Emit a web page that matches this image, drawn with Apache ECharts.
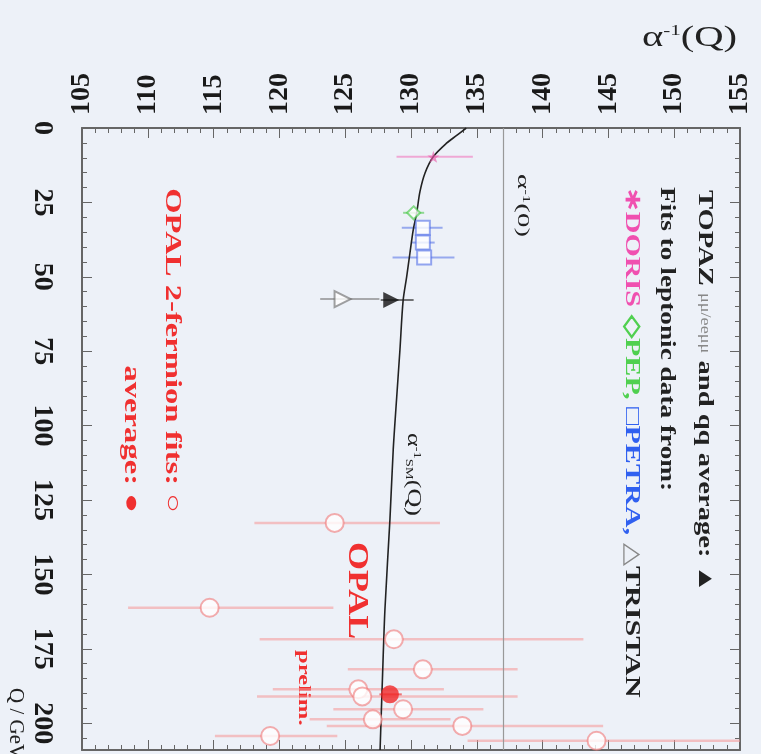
<!DOCTYPE html>
<html><head><meta charset="utf-8">
<script src="https://cdn.jsdelivr.net/npm/echarts@6/dist/echarts.min.js"></script>
<style>html,body{margin:0;padding:0;background:#edf1f8}#c{width:761px;height:754px}</style>
</head><body><div id="c"></div>
<script>
// Standard-model running curve alpha^-1(Q)
const curveQ     = [0,     2.4,   5.1,   9.6,   15.2,  21.4,  28.6,  34.2,  42,    50,    58,    74.5,  91.3,  108,   131.5, 161.7, 185,   209];
const curveAlpha = [134.2, 133.5, 132.7, 131.7, 131.06,130.68,130.43,130.17,129.92,129.67,129.4, 129.16,128.9, 128.65,128.4, 128.02,127.83,127.65];
const alpha0 = 137.036;

// DORIS
const dorisQ = [9.7], dorisA = [131.7], dorisLo = [128.9], dorisHi = [134.7];
// PEP
const pepQ = [28.5], pepA = [130.2], pepLo = [129.4], pepHi = [131.0];
// PETRA
const petraQ = [33.5, 38.5, 43.5], petraA = [130.9, 130.9, 131.0], petraLo = [129.3, 130.0, 128.6], petraHi = [132.4, 131.8, 133.3];
// TRISTAN
const triQ = [57.5], triA = [124.8], triLo = [123.1], triHi = [127.6];
// TOPAZ average
const topazQ = [57.8], topazA = [128.5], topazLo = [127.7], topazHi = [130.2];
// OPAL 2-fermion fits
const opalQ  = [132.7, 161.2, 171.8, 181.9, 188.6, 191.0, 195.3, 198.7, 200.9, 204.3, 205.9];
const opalA  = [124.2, 114.7, 128.7, 130.9, 126.0, 126.3, 129.4, 127.1, 133.9, 119.3, 144.1];
const opalLo = [118.1, 108.5, 118.5, 125.2, 119.5, 118.3, 124.1, 122.3, 123.6, 115.1, 134.3];
const opalHi = [132.2, 124.1, 143.1, 138.1, 132.5, 138.1, 135.5, 133.0, 144.6, 124.4, 155.0];
// OPAL average
const avgQ = [190.3], avgA = [128.4], avgLo = [127.6], avgHi = [129.3];

const serif = "'Liberation Serif','Times New Roman',serif";
const chart = echarts.init(document.getElementById('c'), null, {renderer:'canvas'});

function pts(Q, A){ return Q.map((q,i)=>[A[i], q]); }
function errBars(Q, lo, hi, color, width){
  return {
    type:'custom', xAxisIndex:0, yAxisIndex:0, silent:true, z:2,
    data: Q.map((q,i)=>[q, lo[i], hi[i]]),
    encode:{x:[1,2], y:0},
    renderItem:(params, api)=>{
      const q = api.value(0), l = api.value(1), h = api.value(2);
      const p1 = api.coord([l, q]), p2 = api.coord([h, q]);
      return {type:'line', shape:{x1:p1[0], y1:p1[1], x2:p2[0], y2:p2[1]}, style:{stroke:color, lineWidth:width}};
    }
  };
}
const axisCol = '#666';
const starPath = 'path://M0,-10 L2.4,-3.2 L9.5,-3.1 L3.8,1.2 L5.9,8.1 L0,4 L-5.9,8.1 L-3.8,1.2 L-9.5,-3.1 L-2.4,-3.2 Z';
const R = -Math.PI/2;

const option = {
  backgroundColor:'#edf1f8',
  animation:false,
  grid:{left:82, top:128, width:658, height:622},
  xAxis:[
    {type:'value', position:'top', min:105, max:155, interval:5,
     axisLine:{show:true, onZero:false, lineStyle:{color:axisCol, width:2}},
     axisTick:{show:true, inside:true, length:10, lineStyle:{color:axisCol}},
     minorTick:{show:true, splitNumber:5, length:5, lineStyle:{color:axisCol}},
     splitLine:{show:false},
     axisLabel:{rotate:-90, margin:13, fontFamily:serif, fontWeight:'bold', fontSize:28, color:'#1a1a1a'}},
    {type:'value', position:'bottom', min:105, max:155, interval:5,
     axisLine:{show:true, onZero:false, lineStyle:{color:axisCol, width:2}},
     axisTick:{show:true, inside:true, length:10, lineStyle:{color:axisCol}},
     minorTick:{show:true, splitNumber:5, length:5, lineStyle:{color:axisCol}},
     splitLine:{show:false}, axisLabel:{show:false}}
  ],
  yAxis:[
    {type:'value', position:'left', inverse:true, min:0, max:209, interval:25,
     axisLine:{show:true, onZero:false, lineStyle:{color:axisCol, width:2}},
     axisTick:{show:true, inside:true, length:10, lineStyle:{color:axisCol}},
     minorTick:{show:true, splitNumber:5, length:5, lineStyle:{color:axisCol}},
     splitLine:{show:false},
     axisLabel:{rotate:-90, margin:26, showMaxLabel:false, fontFamily:serif, fontWeight:'bold', fontSize:28, color:'#1a1a1a'}},
    {type:'value', position:'right', inverse:true, min:0, max:209, interval:25,
     axisLine:{show:true, onZero:false, lineStyle:{color:axisCol, width:2}},
     axisTick:{show:true, inside:true, length:10, lineStyle:{color:axisCol}},
     minorTick:{show:true, splitNumber:5, length:5, lineStyle:{color:axisCol}},
     splitLine:{show:false}, axisLabel:{show:false}}
  ],
  series:[
    {type:'line', data:pts(curveQ, curveAlpha), smooth:0.3, showSymbol:false, z:5,
     lineStyle:{color:'#222', width:1.6},
     markLine:{silent:true, symbol:'none', label:{show:false},
       lineStyle:{color:'#999', width:1.2, type:'solid'}, data:[{xAxis:alpha0}]}},
    errBars(dorisQ, dorisLo, dorisHi, 'rgba(240,120,190,0.6)', 2),
    errBars(pepQ, pepLo, pepHi, 'rgba(80,200,80,0.6)', 2),
    errBars(petraQ, petraLo, petraHi, 'rgba(80,110,230,0.55)', 2),
    errBars(triQ, triLo, triHi, 'rgba(120,120,120,0.6)', 2),
    errBars(topazQ, topazLo, topazHi, 'rgba(60,60,60,0.7)', 2),
    errBars(opalQ, opalLo, opalHi, 'rgba(245,150,150,0.55)', 2.5),
    errBars(avgQ, avgLo, avgHi, 'rgba(240,60,60,0.7)', 2),
    {type:'scatter', data:pts(dorisQ, dorisA), symbol:starPath, symbolSize:12, z:6,
     itemStyle:{color:'rgba(235,90,170,0.8)'}},
    {type:'scatter', data:pts(pepQ, pepA), symbol:'emptyDiamond', symbolSize:13, z:6,
     itemStyle:{color:'rgba(70,200,70,0.8)', borderWidth:2}},
    {type:'scatter', data:pts(petraQ, petraA), symbol:'emptyRect', symbolSize:14, z:6,
     itemStyle:{color:'rgba(70,100,230,0.7)', borderWidth:1.5}},
    {type:'scatter', data:pts(triQ, triA), symbol:'emptyTriangle', symbolRotate:-90, symbolSize:16, z:6,
     itemStyle:{color:'rgba(110,110,110,0.8)', borderWidth:1.5}},
    {type:'scatter', data:pts(topazQ, topazA), symbol:'triangle', symbolRotate:-90, symbolSize:16, z:7,
     itemStyle:{color:'#111'}},
    {type:'scatter', data:pts(opalQ, opalA), symbol:'emptyCircle', symbolSize:18, z:6,
     itemStyle:{color:'rgba(240,120,120,0.75)', borderWidth:2}},
    {type:'scatter', data:pts(avgQ, avgA), symbol:'circle', symbolSize:18, z:8,
     itemStyle:{color:'#f02828'}}
  ],
  graphic:[
    {type:'text', x:642, y:24, scaleX:1.4, style:{text:'{a|α}{s|-1}{a|(Q)}',
      rich:{a:{fontFamily:serif, fontSize:29, fill:'#222'}, s:{fontFamily:serif, fontSize:15, verticalAlign:'top', fill:'#222'}}}},
    {type:'text', x:15, y:688, rotation:R, scaleX:1.05, style:{text:'Q / GeV', font:'20px '+serif, fill:'#222', textVerticalAlign:'middle'}},
    {type:'text', x:705, y:190, rotation:R, scaleX:1.3, style:{text:'{b|TOPAZ }{m|μμ/eeμμ}{b| and qq average: ▲}', textVerticalAlign:'middle',
      rich:{b:{fontFamily:serif, fontWeight:'bold', fontSize:22, fill:'#222'}, m:{fontFamily:serif, fontSize:14, fill:'#888'}}}},
    {type:'text', x:667, y:187, rotation:R, scaleX:1.24, style:{text:'Fits to leptonic data from:', font:'bold 22px '+serif, fill:'#222', textVerticalAlign:'middle'}},
    {type:'text', x:632, y:187, rotation:R, scaleX:1.37, style:{text:'{p|∗DORIS }{g|◇PEP, }{u|□PETRA, }{t|△}{k|TRISTAN}', textVerticalAlign:'middle',
      rich:{p:{fontFamily:serif, fontWeight:'bold', fontSize:22, fill:'#f050b0'},
            g:{fontFamily:serif, fontWeight:'bold', fontSize:22, fill:'#50d050'},
            u:{fontFamily:serif, fontWeight:'bold', fontSize:22, fill:'#3060f0'},
            t:{fontFamily:serif, fontSize:22, fill:'#888'},
            k:{fontFamily:serif, fontWeight:'bold', fontSize:22, fill:'#222'}}}},
    {type:'text', x:522, y:174, rotation:R, scaleX:1.7, style:{text:'{a|α}{s|-1}{a|(0)}', textVerticalAlign:'middle',
      rich:{a:{fontFamily:serif, fontSize:17, fill:'#222'}, s:{fontFamily:serif, fontSize:10, verticalAlign:'top', fill:'#222'}}}},
    {type:'text', x:413, y:433, rotation:R, scaleX:1.45, style:{text:'{a|α}{s|-1}{d|SM}{a|(Q)}', textVerticalAlign:'middle',
      rich:{a:{fontFamily:serif, fontSize:18, fill:'#222'}, s:{fontFamily:serif, fontSize:10, verticalAlign:'top', fill:'#222'},
            d:{fontFamily:serif, fontSize:10, verticalAlign:'bottom', fill:'#222'}}}},
    {type:'text', x:357, y:542, rotation:R, scaleX:1.2, style:{text:'OPAL', font:'bold 30px '+serif, fill:'#f03030', textVerticalAlign:'middle'}},
    {type:'text', x:303, y:650, rotation:R, scaleX:1.45, style:{text:'prelim.', font:'bold 17px '+serif, fill:'#f03030', textVerticalAlign:'middle'}},
    {type:'text', x:172, y:513, rotation:R, scaleX:1.42, style:{text:'OPAL 2-fermion fits: ○', font:'bold 23px '+serif, fill:'#f03030', textVerticalAlign:'middle', textAlign:'right'}},
    {type:'text', x:131, y:513, rotation:R, scaleX:1.42, style:{text:'average: ●', font:'bold 23px '+serif, fill:'#f03030', textVerticalAlign:'middle', textAlign:'right'}}
  ]
};
chart.setOption(option);
</script></body></html>
